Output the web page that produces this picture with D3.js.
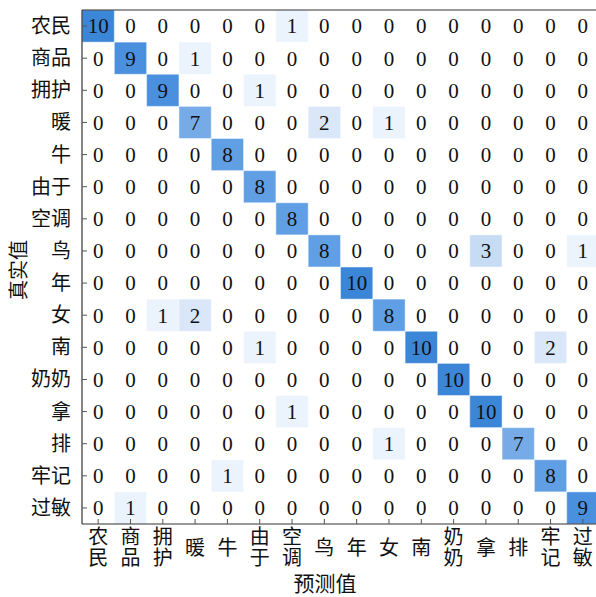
<!DOCTYPE html>
<html>
<head>
<meta charset="utf-8">
<script src="https://cdn.jsdelivr.net/npm/d3@7"></script>
<style>
  body { margin: 0; background: #fff; }
  svg { display: block; }
</style>
</head>
<body>
<div id="chart"></div>
<script>
// class labels (true = rows, predicted = columns)
var labels = ["农民", "商品", "拥护", "暖", "牛", "由于", "空调", "鸟", "年", "女", "南", "奶奶", "拿", "排", "牢记", "过敏"];

// confusion matrix counts, one row per true label
var matrix = [
    [10, 0, 0, 0, 0, 0, 1, 0, 0, 0, 0, 0, 0, 0, 0, 0],
    [0, 9, 0, 1, 0, 0, 0, 0, 0, 0, 0, 0, 0, 0, 0, 0],
    [0, 0, 9, 0, 0, 1, 0, 0, 0, 0, 0, 0, 0, 0, 0, 0],
    [0, 0, 0, 7, 0, 0, 0, 2, 0, 1, 0, 0, 0, 0, 0, 0],
    [0, 0, 0, 0, 8, 0, 0, 0, 0, 0, 0, 0, 0, 0, 0, 0],
    [0, 0, 0, 0, 0, 8, 0, 0, 0, 0, 0, 0, 0, 0, 0, 0],
    [0, 0, 0, 0, 0, 0, 8, 0, 0, 0, 0, 0, 0, 0, 0, 0],
    [0, 0, 0, 0, 0, 0, 0, 8, 0, 0, 0, 0, 3, 0, 0, 1],
    [0, 0, 0, 0, 0, 0, 0, 0, 10, 0, 0, 0, 0, 0, 0, 0],
    [0, 0, 1, 2, 0, 0, 0, 0, 0, 8, 0, 0, 0, 0, 0, 0],
    [0, 0, 0, 0, 0, 1, 0, 0, 0, 0, 10, 0, 0, 0, 2, 0],
    [0, 0, 0, 0, 0, 0, 0, 0, 0, 0, 0, 10, 0, 0, 0, 0],
    [0, 0, 0, 0, 0, 0, 1, 0, 0, 0, 0, 0, 10, 0, 0, 0],
    [0, 0, 0, 0, 0, 0, 0, 0, 0, 1, 0, 0, 0, 7, 0, 0],
    [0, 0, 0, 0, 1, 0, 0, 0, 0, 0, 0, 0, 0, 0, 8, 0],
    [0, 1, 0, 0, 0, 0, 0, 0, 0, 0, 0, 0, 0, 0, 0, 9]
];

var xTitle = "预测值",
    yTitle = "真实值";

// note: "top" is a read-only window global, so use a plot box object
var W = 596, H = 597,
    plot = { x0: 82, y0: 10, x1: 599, y1: 524 };

var serif = "'Liberation Serif', 'Times New Roman', serif";
var cjk = "'Noto Sans CJK SC', 'Liberation Serif', serif";

var svg = d3.select("#chart").append("svg")
    .attr("width", W)
    .attr("height", H);

var x = d3.scaleBand().domain(d3.range(labels.length)).range([plot.x0, plot.x1]);
var y = d3.scaleBand().domain(d3.range(labels.length)).range([plot.y0, plot.y1]);

// white -> blue ramp
var color = d3.scaleLinear()
    .domain([0, 1, 2, 3, 7, 8, 9, 10])
    .range(["#ffffff", "#ebf3fd", "#d9e7f8", "#c6dcf4", "#76abe7", "#619fe5", "#4b90df", "#3c86d8"])
    .clamp(true);

var cells = [];
matrix.forEach(function(row, i) {
    row.forEach(function(v, j) {
        cells.push({ r: i, c: j, v: v });
    });
});

svg.append("g").selectAll("rect")
    .data(cells.filter(function(d) { return d.v > 0; }))
    .enter().append("rect")
    .attr("x", function(d) { return x(d.c); })
    .attr("y", function(d) { return y(d.r); })
    .attr("width", x.bandwidth())
    .attr("height", y.bandwidth())
    .style("fill", function(d) { return color(d.v); })
    .style("stroke", "#ffffff")
    .style("stroke-opacity", 0.45)
    .style("stroke-width", 1);

// cell counts
svg.append("g").selectAll("text")
    .data(cells)
    .enter().append("text")
    .attr("x", function(d) { return x(d.c) + x.bandwidth() / 2; })
    .attr("y", function(d) { return y(d.r) + y.bandwidth() / 2; })
    .attr("dy", ".35em")
    .style("text-anchor", "middle")
    .style("font-family", serif)
    .style("font-size", "21px")
    .style("fill", "#111")
    .text(function(d) { return d.v; });

// spines
var spine = svg.append("g").style("stroke", "#333").style("stroke-width", 1.2);
spine.append("line").attr("x1", plot.x0).attr("x2", plot.x0).attr("y1", plot.y0).attr("y2", plot.y1);
spine.append("line").attr("x1", plot.x0).attr("x2", plot.x1).attr("y1", plot.y1).attr("y2", plot.y1);
spine.append("line").attr("x1", plot.x0).attr("x2", plot.x1).attr("y1", plot.y0).attr("y2", plot.y0);

// inward ticks
svg.append("g").selectAll("line")
    .data(d3.range(labels.length))
    .enter().append("line")
    .attr("x1", plot.x0).attr("x2", plot.x0 + 5)
    .attr("y1", function(d) { return y(d) + y.bandwidth() / 2; })
    .attr("y2", function(d) { return y(d) + y.bandwidth() / 2; })
    .style("stroke", "#555");
svg.append("g").selectAll("line")
    .data(d3.range(labels.length))
    .enter().append("line")
    .attr("y1", plot.y1).attr("y2", plot.y1 - 5)
    .attr("x1", function(d) { return x(d) + x.bandwidth() / 2; })
    .attr("x2", function(d) { return x(d) + x.bandwidth() / 2; })
    .style("stroke", "#555");

// y tick labels
svg.append("g").selectAll("text")
    .data(labels)
    .enter().append("text")
    .attr("x", plot.x0 - 11)
    .attr("y", function(d, i) { return y(i) + y.bandwidth() / 2; })
    .attr("dy", ".35em")
    .style("text-anchor", "end")
    .style("font-family", cjk)
    .style("font-size", "20px")
    .style("fill", "#111")
    .text(function(d) { return d; });

// x tick labels, written top-to-bottom, centred at y = 547
svg.append("g").selectAll("text")
    .data(labels)
    .enter().append("text")
    .attr("x", function(d, i) { return x(i) + x.bandwidth() / 2; })
    .attr("y", 547.5)
    .style("writing-mode", "vertical-rl")
    .style("text-anchor", "middle")
    .style("letter-spacing", "1px")
    .style("font-family", cjk)
    .style("font-size", "20px")
    .style("fill", "#111")
    .text(function(d) { return d; });

// axis titles
svg.append("text")
    .attr("x", 325)
    .attr("y", 584)
    .attr("dy", ".35em")
    .style("text-anchor", "middle")
    .style("font-family", cjk)
    .style("font-size", "21px")
    .style("fill", "#111")
    .text(xTitle);

svg.append("text")
    .attr("transform", "translate(19,270) rotate(-90)")
    .attr("dy", ".35em")
    .style("text-anchor", "middle")
    .style("font-family", cjk)
    .style("font-size", "20px")
    .style("fill", "#111")
    .text(yTitle);
</script>
</body>
</html>
